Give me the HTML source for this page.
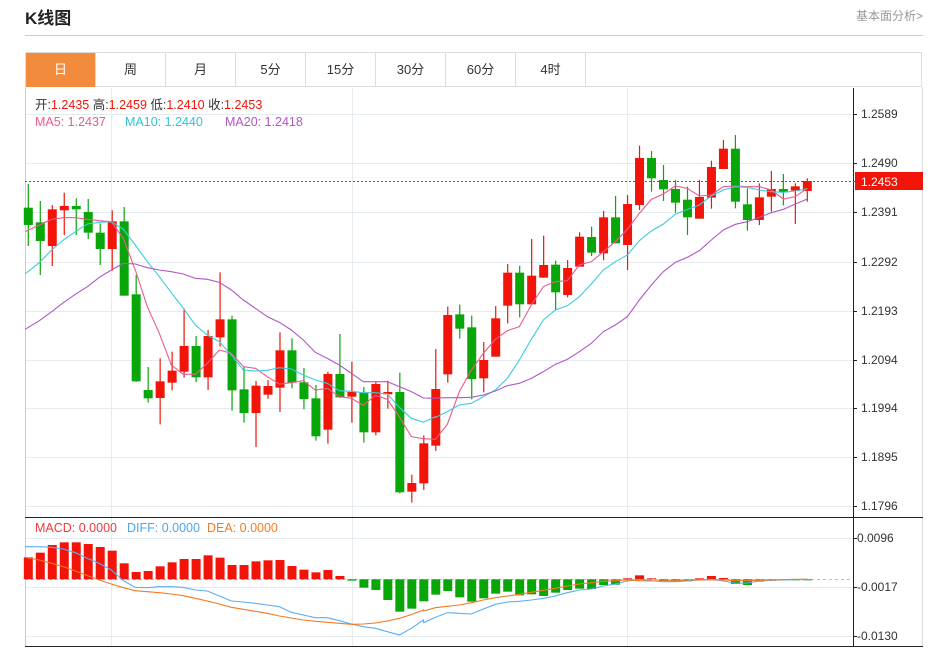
<!DOCTYPE html>
<html><head><meta charset="utf-8">
<style>
body{margin:0;background:#fff;width:933px;height:650px;overflow:hidden;font-family:"Liberation Sans","Noto Sans CJK SC",sans-serif;}
#wrap{position:relative;width:933px;height:650px;}
.h{position:absolute;left:25px;top:4px;font-size:17px;font-weight:bold;color:#222;}
.more{position:absolute;right:10px;top:7px;font-size:12px;color:#999;}
.hr{position:absolute;left:25px;top:35px;width:898px;height:1px;background:#ccc;}
.tabs{position:absolute;left:25px;top:52px;width:897px;height:35px;border:1px solid #ddd;border-bottom:1px solid #ddd;box-sizing:border-box;}
.tab{position:absolute;top:0;height:34px;width:70px;border-right:1px solid #ddd;box-sizing:border-box;text-align:center;line-height:34px;font-size:13px;color:#333;}
.tab.on{background:#f28c3c;color:#fff;}
svg{position:absolute;left:0;top:0;}
</style></head><body><div id="wrap">
<div class="h">K线图</div><div class="more">基本面分析&gt;</div><div class="hr"></div>
<div class="tabs">
<div class="tab on" style="left:0">日</div><div class="tab" style="left:70px">周</div><div class="tab" style="left:140px">月</div><div class="tab" style="left:210px">5分</div><div class="tab" style="left:280px">15分</div><div class="tab" style="left:350px">30分</div><div class="tab" style="left:420px">60分</div><div class="tab" style="left:490px">4时</div>
</div>
<svg id="s" width="933" height="650" xmlns="http://www.w3.org/2000/svg" font-family="Liberation Sans, Noto Sans CJK SC, sans-serif"></svg>
</div>
<script>
var S=document.getElementById('s');var h='';
function L(x1,y1,x2,y2,c,w,d){h+='<line x1="'+x1+'" y1="'+y1+'" x2="'+x2+'" y2="'+y2+'" stroke="'+c+'" stroke-width="'+(w||1)+'"'+(d?' stroke-dasharray="'+d+'"':'')+'/>';}
function T(x,y,t,c,sz,a){h+='<text x="'+x+'" y="'+y+'" fill="'+c+'" font-size="'+(sz||12)+'"'+(a?' text-anchor="'+a+'"':'')+'>'+t+'</text>';}
var py=[114,163,212,262,311,360,408,457,506],pl=['1.2589','1.2490','1.2391','1.2292','1.2193','1.2094','1.1994','1.1895','1.1796'];
py.forEach(function(y){L(25,y+.5,853,y+.5,'#e4ecf2');});
[538,587,636].forEach(function(y){L(25,y+.5,853,y+.5,'#e4ecf2');});
[111,352,627].forEach(function(x){L(x+.5,88,x+.5,646,'#e4ecf2');});
L(25.5,87,25.5,646,'#ccc');L(922.5,87,922.5,646,'#ddd');
L(853.5,88,853.5,646,'#222');
L(25,517.5,923,517.5,'#222');L(25,646.5,923,646.5,'#222');
py.forEach(function(y,i){L(853,y+.5,857,y+.5,'#222');T(861,y+4,pl[i],'#333',12);});
[[538,'0.0096'],[587,'-0.0017'],[636,'-0.0130']].forEach(function(a){L(853,a[0]+.5,857,a[0]+.5,'#222');T(857,a[0]+4,a[1],'#333',12);});
var X=function(i){return 28.3+11.985*i;};
var A=[['g',113,165,42,228],['g',157,213,93,315],['r',118,228,105,288],['r',108,121,68,195],['g',108,118,85,195],['g',126,188,87,207],['g',188,237,160,285],['r',154,237,121,302],['g',154,377,111,377],['g',373,634,315,636],['g',660,685,591,698],['r',634,684,565,763],['r',602,638,545,661],['r',528,605,415,623],['g',528,622,498,636],['r',498,622,480,660],['r',448,502,307,530],['g',448,661,437,722],['g',658,729,590,758],['r',647,729,633,831],['r',648,674,630,686],['r',541,653,487,726],['g',541,638,505,655],['g',637,687,594,718],['g',685,799,645,812],['r',612,779,605,821],['g',612,682,492,684],['r',666,680,575,758],['g',667,787,651,818],['r',642,787,635,796],['r',666,673,632,716],['g',666,967,608,970],['r',939,965,914,998],['r',820,940,796,960]];
var B=[['r',777,947,657,963],['r',555,733,530,758],['g',553,596,524,626],['g',592,747,557,808],['r',690,745,636,787],['r',565,680,528,680],['r',428,527,402,580],['g',428,523,407,562],['r',437,523,327,523],['r',405,443,317,443],['g',404,487,392,541],['r',414,495,390,502],['r',320,410,307,410],['g',321,368,290,378],['r',262,370,243,391],['g',262,340,198,340],['r',222,345,195,420],['r',84,225,47,240],['g',84,145,63,185],['g',150,178,105,213],['g',177,218,150,248],['g',209,262,170,315],['r',201,266,150,266],['r',111,203,92,236],['r',56,117,30,117],['g',56,215,15,235],['g',223,270,175,302],['r',202,270,160,285],['r',177,200,123,245],['g',177,187,132,226],['r',169,182,160,282],['r',153,183,145,215]];
var C=[];A.forEach(function(a){C.push([a[0],170+a[1]/3,170+a[2]/3,170+a[3]/3,170+a[4]/3]);});
B.forEach(function(a){C.push([a[0],130+a[1]/3,130+a[2]/3,130+a[3]/3,130+a[4]/3]);});
C.forEach(function(c,i){var x=X(i),col=c[0]=='r'?'#f21408':'#08a608';
L(x,c[3],x,c[4],col,1.2);h+='<rect x="'+(x-4.5)+'" y="'+c[1]+'" width="9" height="'+Math.max(1.5,c[2]-c[1])+'" fill="'+col+'"/>';});
function P(pts1,off1,pts2,off2,col,w){var s='';pts1.forEach(function(p){s+=(20+p[0]/3)+','+(off1+p[1]/3)+' ';});pts2.forEach(function(p){s+=(420+p[0]/3)+','+(off2+p[1]/3)+' ';});h+='<polyline points="'+s+'" fill="none" stroke="'+col+'" stroke-width="'+(w||1.1)+'"/>';}
P([[15,185],[58,165],[95,148],[130,143],[166,143],[202,148],[238,152],[274,155],[310,205],[346,300],[382,410],[418,490],[454,585],[490,613],[526,613],[562,580],[598,540],[634,550],[670,590],[706,595],[742,620],[778,642],[814,638],[850,632],[886,660],[922,655],[958,680],[994,685],[1030,706],[1066,676],[1102,688],[1138,740],[1174,800],[1210,806],[1246,808]],170,
[[46,928],[82,883],[118,785],[154,720],[190,670],[226,628],[262,602],[298,590],[334,525],[370,470],[406,455],[442,452],[478,405],[514,395],[550,365],[586,335],[622,298],[658,250],[694,208],[730,192],[766,168],[802,175],[838,198],[874,195],[910,170],[946,168],[982,170],[1018,170],[1054,180],[1090,207],[1126,200],[1162,175]],130,'#ec5a8c');
P([[15,312],[58,278],[95,240],[130,210],[166,185],[202,162],[238,157],[274,155],[310,178],[346,225],[382,275],[418,320],[454,368],[490,415],[526,465],[562,495],[598,515],[634,555],[670,600],[706,603],[742,601],[778,593],[814,597],[850,615],[886,630],[922,640],[958,662],[994,664],[1030,668],[1066,668],[1102,672],[1138,712],[1174,745],[1210,757],[1246,740]],170,
[[46,863],[82,845],[118,825],[154,820],[190,800],[226,780],[262,745],[298,690],[334,628],[370,570],[406,540],[442,527],[478,500],[514,462],[550,420],[586,395],[622,375],[658,332],[694,303],[730,282],[766,253],[802,238],[838,225],[874,198],[910,180],[946,170],[982,172],[1018,180],[1054,185],[1090,187],[1126,183],[1162,176]],130,'#3ccbe0');
P([[15,478],[58,452],[95,425],[130,398],[166,373],[202,350],[238,322],[274,300],[310,280],[346,282],[382,293],[418,300],[454,305],[490,312],[526,325],[562,328],[598,337],[634,360],[670,390],[706,415],[742,440],[778,457],[814,480],[850,510],[886,547],[922,565],[958,585],[994,610],[1030,635],[1066,635],[1102,635],[1138,650],[1174,665],[1210,684],[1246,685]],170,
[[46,804],[82,803],[118,803],[154,802],[190,795],[226,783],[262,767],[298,760],[334,745],[370,725],[406,703],[442,688],[478,665],[514,640],[550,605],[586,585],[622,560],[658,510],[694,465],[730,425],[766,397],[802,382],[838,362],[874,330],[910,300],[946,283],[982,275],[1018,262],[1054,248],[1090,238],[1126,222],[1162,207]],130,'#b455c8');
L(25,181.5,853,181.5,'#e8201a',1,'2,2');
h+='<rect x="855" y="172" width="68" height="18" fill="#f21408"/>';L(853,181.5,857,181.5,'#f21408');T(861,186,'1.2453','#fff',12);
T(35,109,'开:<tspan fill="#f21408">1.2435</tspan>  高:<tspan fill="#f21408">1.2459</tspan>  低:<tspan fill="#f21408">1.2410</tspan>  收:<tspan fill="#f21408">1.2453</tspan>','#333',12.5);
T(35,126,'MA5: 1.2437','#ec5a8c',12.5);T(125,126,'MA10: 1.2440','#2fc4dc',12.5);T(225,126,'MA20: 1.2418','#b455c8',12.5);
T(35,532,'MACD: 0.0000','#f03a3a',12.5);T(127,532,'DIFF: 0.0000','#4aa6f0',12.5);T(207,532,'DEA: 0.0000','#f47a20',12.5);
L(25,579.5,853,579.5,'#9cc8e8',1,'3,3');
var Z=579.3;var m=[142,128,105,97,97,102,111,122,160,186,183,169,157,147,147,136,143,165,165,154,151,150,168,179,187,180,198,212,233,240,270,305,296,274,254,243,262,275,265,251,245,256,253,258,248,240,236,237,225,224,205,196,205,213,214,214,205,198,204,222,225,215,212,211,210,209];
m.forEach(function(v,i){var y=510+v/3,x=X(i);var t=Math.min(y,Z),b=Math.max(y,Z);var col=y<Z?'#f21408':'#08a608';h+='<rect x="'+(x-4.5)+'" y="'+t+'" width="9" height="'+Math.max(1,b-t)+'" fill="'+col+'"/>';});
P([[15,110],[58,110],[95,112],[130,117],[166,128],[202,145],[238,160],[274,180],[310,212],[346,232],[382,233],[418,230],[454,230],[490,232],[526,240],[562,243],[598,258],[634,273],[670,276],[706,280],[742,285],[778,290],[814,307],[850,315],[886,323],[922,323],[958,332],[994,342],[1030,350],[1066,355],[1102,365],[1138,375],[1174,355],[1210,330]],510,
[[11,338],[46,322],[82,308],[118,310],[154,312],[190,297],[226,283],[262,276],[298,274],[334,270],[370,265],[406,258],[442,248],[478,240],[514,237],[550,228],[586,222],[622,213],[658,208],[694,212],[730,215],[766,215],[802,213],[838,210],[874,208],[910,213],[946,220],[982,219],[1018,213],[1054,211],[1090,210],[1126,209],[1162,208]],510,'#5aaef2');
P([[15,142],[58,150],[95,160],[130,170],[166,183],[202,197],[238,210],[274,222],[310,233],[346,242],[382,245],[418,248],[454,252],[490,257],[526,265],[562,273],[598,282],[634,292],[670,298],[706,304],[742,310],[778,318],[814,324],[850,330],[886,334],[922,337],[958,340],[994,343],[1030,342],[1066,339],[1102,333],[1138,325],[1174,314],[1210,300]],510,
[[11,303],[46,293],[82,289],[118,285],[154,278],[190,270],[226,263],[262,258],[298,253],[334,247],[370,241],[406,235],[442,228],[478,222],[514,218],[550,214],[586,212],[622,210],[658,212],[694,213],[730,212],[766,212],[802,210],[838,210],[874,209],[910,210],[946,212],[982,212],[1018,211],[1054,210],[1090,209],[1126,208],[1162,208]],510,'#f47a20');
S.innerHTML=h;
</script>
</body></html>
